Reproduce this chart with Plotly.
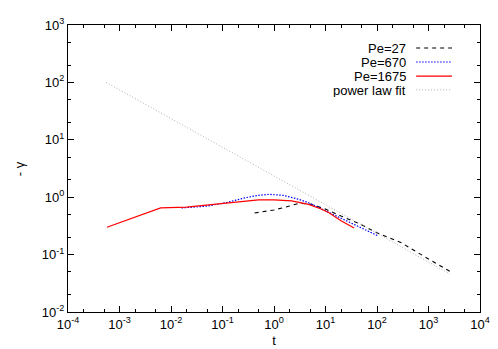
import plotly.graph_objects as go

# curves (t, -gamma)
t_pe27 = [0.42, 1, 2, 3, 5, 10, 20, 44, 100, 300, 600, 1000, 1350, 2000, 2600]
g_pe27 = [0.53, 0.60, 0.70, 0.78, 0.76, 0.62, 0.47, 0.35, 0.24, 0.16, 0.11, 0.085, 0.071, 0.058, 0.051]

t_pe670 = [0.016, 0.05, 0.115, 0.28, 0.5, 0.8, 1.5, 3, 4.7, 10, 20, 50, 107]
g_pe670 = [0.65, 0.70, 0.80, 0.98, 1.08, 1.12, 1.08, 0.92, 0.80, 0.58, 0.44, 0.30, 0.21]

t_pe1675 = [5.7e-4, 6.3e-3, 2e-2, 6e-2, 0.2, 0.5, 1, 2.2, 4.7, 8, 11.5, 20, 36]
g_pe1675 = [0.30, 0.65, 0.67, 0.74, 0.84, 0.90, 0.90, 0.86, 0.75, 0.63, 0.54, 0.39, 0.29]

t_fit = [5.5e-4, 2600]
g_fit = [100, 0.046]

x_exp = [-4, -3, -2, -1, 0, 1, 2, 3, 4]
y_exp = [-2, -1, 0, 1, 2, 3]

series = [
    ("Pe=27", t_pe27, g_pe27, "black", "4px,4px", 1.1),
    ("Pe=670", t_pe670, g_pe670, "blue", "1.5px,1.5px", 1.2),
    ("Pe=1675", t_pe1675, g_pe1675, "red", "solid", 1.2),
    ("power law fit", t_fit, g_fit, "#b0b0b0", "1px,2px", 1),
]

font = "Liberation Sans, Arial, sans-serif"
fig = go.Figure()
for name, x, y, col, dash, w in series:
    fig.add_trace(go.Scatter(x=x, y=y, mode="lines", name=name,
                             line=dict(color=col, dash=dash, width=w)))

# gnuplot-style legend: text right-aligned, sample line on the right
ly = [0.920, 0.871, 0.822, 0.774]
for (name, x, y, col, dash, w), yy in zip(series, ly):
    fig.add_annotation(x=0.822, y=yy, xref="paper", yref="paper", text=name,
                       showarrow=False, xanchor="right", yanchor="middle",
                       height=14, borderpad=0,
                       font=dict(size=13, color="black", family=font))
    fig.add_shape(type="line", xref="paper", yref="paper", x0=0.845, x1=0.932,
                  y0=yy, y1=yy, line=dict(color=col, dash=dash, width=w))

# y-axis title placed by hand, gnuplot puts it far left
fig.add_annotation(x=-0.117, y=0.5, xref="paper", yref="paper", text="- γ",
                   showarrow=False, textangle=-90, xanchor="center", yanchor="middle",
                   font=dict(size=13, color="black", family=font))

def labels(exps):
    return [f"10<sup>{e}</sup>" for e in exps]

axis = dict(type="log", showgrid=False, automargin=False,
            zeroline=False, showline=True, linecolor="black", linewidth=1,
            mirror="allticks", ticks="inside", ticklen=6, tickcolor="black",
            tickfont=dict(size=13, color="black", family=font),
            minor=dict(ticks="inside", ticklen=3, dtick="D2", tickcolor="black", showgrid=False))

fig.update_xaxes(axis, range=[-4, 4],
                 tickvals=[10 ** e for e in x_exp], ticktext=labels(x_exp),
                 title=dict(text="t", standoff=5,
                            font=dict(size=13, color="black", family=font)))
fig.update_yaxes(axis, range=[-2, 3],
                 tickvals=[10 ** e for e in y_exp], ticktext=labels(y_exp))

fig.update_layout(width=498, height=349, showlegend=False,
                  plot_bgcolor="white", paper_bgcolor="white",
                  margin=dict(l=60, r=26, t=17, b=45),
                  font=dict(family=font, color="black"))

fig.write_html("out.html")
